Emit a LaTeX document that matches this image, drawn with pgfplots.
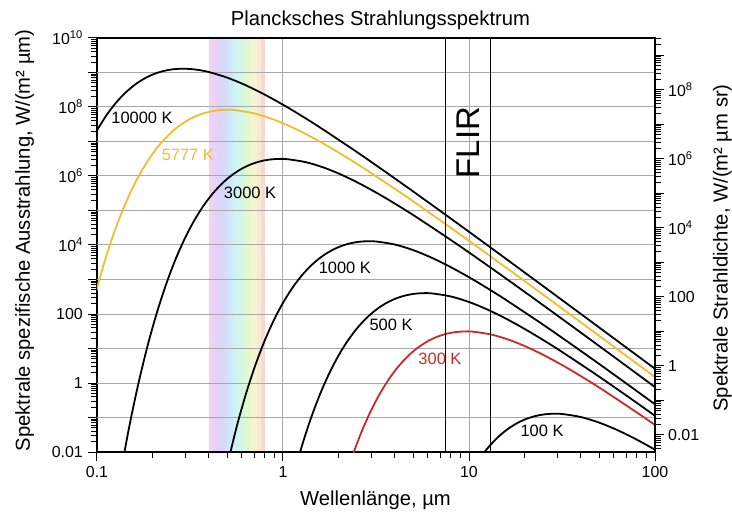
\documentclass[border=0pt]{standalone}
\usepackage{fontspec}
\setmainfont{Liberation Sans}
\usepackage{pgfplots}
\pgfplotsset{compat=1.18}
\definecolor{sunY}{RGB}{240,190,45}
\definecolor{hotR}{RGB}{205,40,40}
\definecolor{gridG}{RGB}{168,168,168}
\definecolor{rbA}{RGB}{246,210,244}
\definecolor{rbB}{RGB}{220,212,248}
\definecolor{rbC}{RGB}{208,228,250}
\definecolor{rbD}{RGB}{208,246,243}
\definecolor{rbE}{RGB}{218,247,210}
\definecolor{rbF}{RGB}{248,247,208}
\definecolor{rbG}{RGB}{251,230,210}
\definecolor{rbH}{RGB}{251,210,210}
\begin{document}
\begin{tikzpicture}
% visible spectrum band
\begin{axis}[scale only axis, width=558bp, height=414bp, at={(0,0)}, anchor=south west,
  xmode=log, ymode=log, xmin=0.1, xmax=100, ymin=0.01, ymax=1e10, hide axis]
\fill[rbB!18!rbA] (axis cs:0.4,0.01) rectangle (axis cs:0.4215,1e10);
\fill[rbB!54!rbA] (axis cs:0.4203,0.01) rectangle (axis cs:0.4429,1e10);
\fill[rbB!89!rbA] (axis cs:0.44164,0.01) rectangle (axis cs:0.4654,1e10);
\fill[rbC!33!rbB] (axis cs:0.46406,0.01) rectangle (axis cs:0.4890,1e10);
\fill[rbC!81!rbB] (axis cs:0.48762,0.01) rectangle (axis cs:0.5138,1e10);
\fill[rbD!29!rbC] (axis cs:0.51237,0.01) rectangle (axis cs:0.5399,1e10);
\fill[rbD!76!rbC] (axis cs:0.53838,0.01) rectangle (axis cs:0.5673,1e10);
\fill[rbE!24!rbD] (axis cs:0.56571,0.01) rectangle (axis cs:0.5961,1e10);
\fill[rbE!71!rbD] (axis cs:0.59443,0.01) rectangle (axis cs:0.6264,1e10);
\fill[rbF!19!rbE] (axis cs:0.62460,0.01) rectangle (axis cs:0.6582,1e10);
\fill[rbF!67!rbE] (axis cs:0.65630,0.01) rectangle (axis cs:0.6916,1e10);
\fill[rbG!21!rbF] (axis cs:0.68962,0.01) rectangle (axis cs:0.7267,1e10);
\fill[rbG!93!rbF] (axis cs:0.72463,0.01) rectangle (axis cs:0.7636,1e10);
\fill[rbH!64!rbG] (axis cs:0.76141,0.01) rectangle (axis cs:0.8,1e10);
\end{axis}
% main axis
\begin{axis}[scale only axis, width=558bp, height=414bp, at={(0,0)}, anchor=south west,
  xmode=log, ymode=log, xmin=0.1, xmax=100, ymin=0.01, ymax=1e10,
  ticklabel style={font=\fontsize{16}{19}\selectfont},
  axis line style={line width=1.4bp},
  tick style={black, line width=1bp},
  major tick length=9bp, minor tick length=6bp, tick align=outside,
  xtick pos=left, ytick pos=left,
  xtick={0.1,1,10,100}, xticklabels={0.1,1,10,100},
  minor xtick={0.2,0.3,0.4,0.5,0.6,0.7,0.8,0.9,2,3,4,5,6,7,8,9,20,30,40,50,60,70,80,90},
  ytick={1e-2,1e-1,1e0,1e1,1e2,1e3,1e4,1e5,1e6,1e7,1e8,1e9,1e10},
  yticklabels={0.01,,1,,100,,10\textsuperscript{4},,10\textsuperscript{6},,10\textsuperscript{8},,10\textsuperscript{10}},
  minor ytick={2e-2,3e-2,4e-2,5e-2,6e-2,7e-2,8e-2,9e-2,2e-1,3e-1,4e-1,5e-1,6e-1,7e-1,8e-1,9e-1,2e0,3e0,4e0,5e0,6e0,7e0,8e0,9e0,2e1,3e1,4e1,5e1,6e1,7e1,8e1,9e1,2e2,3e2,4e2,5e2,6e2,7e2,8e2,9e2,2e3,3e3,4e3,5e3,6e3,7e3,8e3,9e3,2e4,3e4,4e4,5e4,6e4,7e4,8e4,9e4,2e5,3e5,4e5,5e5,6e5,7e5,8e5,9e5,2e6,3e6,4e6,5e6,6e6,7e6,8e6,9e6,2e7,3e7,4e7,5e7,6e7,7e7,8e7,9e7,2e8,3e8,4e8,5e8,6e8,7e8,8e8,9e8,2e9,3e9,4e9,5e9,6e9,7e9,8e9,9e9},
  yticklabel style={inner xsep=5bp},
  xticklabel style={yshift=-2bp},
  xmajorgrids=true, major grid style={gridG, line width=1bp},
  every axis plot/.append style={line width=1.8bp, smooth}]
% horizontal grid lines at every decade
\pgfplotsinvokeforeach{-1,...,9}{\draw[gridG, line width=1bp] (axis cs:0.1,1e#1) -- (axis cs:100,1e#1);}
% 10000 K
\addplot[black] coordinates {(0.1,2.111e7) (0.1122,5.678e7) (0.1259,1.287e8) (0.1413,2.508e8) (0.1585,4.271e8) (0.1778,6.446e8) (0.1995,8.744e8) (0.2239,1.078e9) (0.2512,1.222e9) (0.2818,1.284e9) (0.3162,1.264e9) (0.3548,1.174e9) (0.3981,1.036e9) (0.5012,7.106e8) (0.6310,4.262e8) (0.7943,2.312e8) (1,1.164e8) (1.2589,5.540e7) (1.5849,2.530e7) (2.5119,4.839e6) (3.9811,8.594e5) (6.3096,1.461e5) (10,2.418e4) (15.849,3937) (25.119,634.7) (39.811,101.7) (63.096,16.23) (100,2.582)};
% 5777 K
\addplot[sunY] coordinates {(0.09734,331.0) (0.10922,3009) (0.12255,2.018e4) (0.13750,1.036e5) (0.15428,4.173e5) (0.17310,1.358e6) (0.19422,3.652e6) (0.21792,8.279e6) (0.24451,1.614e7) (0.27435,2.748e7) (0.30782,4.148e7) (0.34539,5.626e7) (0.38753,6.936e7) (0.43482,7.858e7) (0.48809,8.262e7) (0.54739,8.133e7) (0.68912,6.665e7) (0.86752,4.573e7) (1.0922,2.742e7) (1.3750,1.488e7) (1.7310,7.487e6) (2.1792,3.565e6) (2.7435,1.627e6) (4.3482,3.113e5) (6.8912,5.530e4) (10.922,9399) (17.310,1556) (27.435,253.3) (43.482,40.84) (68.912,6.541) (109.22,1.044)};
% 3000 K
\addplot[black] coordinates {(0.13270,1.833e-3) (0.14890,0.05245) (0.16707,0.9795) (0.18745,12.50) (0.21033,113.6) (0.23600,762.3) (0.26479,3911) (0.29710,1.576e4) (0.33333,5.130e4) (0.37401,1.380e5) (0.41964,3.127e5) (0.47085,6.095e5) (0.52830,1.038e6) (0.59276,1.566e6) (0.66510,2.125e6) (0.74625,2.620e6) (0.83731,2.968e6) (0.93946,3.121e6) (1.0541,3.072e6) (1.3270,2.517e6) (1.6707,1.727e6) (2.1033,1.036e6) (2.6479,5.618e5) (3.3333,2.828e5) (4.1964,1.346e5) (5.2830,6.147e4) (8.3731,1.176e4) (13.270,2088) (21.033,354.9) (33.333,58.76) (52.830,9.567) (83.731,1.542) (132.70,0.2470)};
% 1000 K
\addplot[black] coordinates {(0.50119,4.031e-3) (0.56234,0.05143) (0.63096,0.4676) (0.70795,3.137) (0.79433,16.09) (0.89125,64.84) (1,211.1) (1.1220,567.8) (1.2589,1287) (1.4125,2508) (1.5849,4271) (1.7783,6446) (1.9953,8744) (2.2387,1.078e4) (2.5119,1.222e4) (2.8184,1.284e4) (3.1623,1.264e4) (3.9811,1.036e4) (5.0119,7106) (6.3096,4262) (7.9433,2312) (10,1164) (12.589,554.0) (15.849,253.0) (25.119,48.39) (39.811,8.594) (63.096,1.461) (100,0.2418)};
% 500 K
\addplot[black] coordinates {(1.12468,1.607e-3) (1.26191,0.01461) (1.41589,0.09802) (1.58866,0.5029) (1.78250,2.027) (2.0,6.598) (2.2440,17.74) (2.5179,40.21) (2.8251,78.42) (3.1698,133.5) (3.5566,201.5) (3.9905,273.3) (4.4774,336.9) (5.0238,381.6) (5.6368,401.3) (6.3246,395.0) (7.9621,323.7) (10.024,222.1) (12.619,133.2) (15.887,72.26) (20.0,36.37) (25.179,17.31) (31.698,7.907) (50.238,1.512) (79.621,0.2685) (126.19,0.04565)};
% 300 K
\addplot[hotR] coordinates {(2.1032,1.136e-3) (2.3598,7.623e-3) (2.6478,0.03911) (2.9708,0.1576) (3.3333,0.5130) (3.7401,1.380) (4.1964,3.127) (4.7085,6.095) (5.2830,10.38) (5.9276,15.66) (6.6510,21.25) (7.4625,26.20) (8.3731,29.68) (9.3947,31.21) (10.541,30.72) (13.270,25.17) (16.707,17.27) (21.033,10.36) (26.479,5.618) (33.333,2.828) (41.964,1.346) (52.830,0.6147) (83.731,0.1176) (132.70,0.02088)};
% 100 K
\addplot[black] coordinates {(10,2.111e-3) (11.220,5.678e-3) (12.589,0.01287) (14.125,0.02508) (15.849,0.04271) (17.783,0.06446) (19.953,0.08744) (22.387,0.1078) (25.119,0.1222) (28.184,0.1284) (31.623,0.1264) (39.811,0.1036) (50.119,0.07106) (63.096,0.04262) (79.433,0.02312) (100,0.01164) (125.89,5.540e-3)};
% FLIR band limits
\addplot[black, line width=1.1bp, sharp plot] coordinates {(7.5,0.01) (7.5,1e10)};
\addplot[black, line width=1.1bp, sharp plot] coordinates {(13,0.01) (13,1e10)};
% labels
\node[font=\fontsize{16.5}{19}\selectfont, inner sep=0pt] at (axis cs:0.1746,4.8e7) {10000 K};
\node[font=\fontsize{16.5}{19}\selectfont, inner sep=0pt, text=sunY] at (axis cs:0.308,4.07e6) {5777 K};
\node[font=\fontsize{16.5}{19}\selectfont, inner sep=0pt] at (axis cs:0.665,3.2e5) {3000 K};
\node[font=\fontsize{16.5}{19}\selectfont, inner sep=0pt] at (axis cs:2.15,2150) {1000 K};
\node[font=\fontsize{16.5}{19}\selectfont, inner sep=0pt] at (axis cs:3.81,48) {500 K};
\node[font=\fontsize{16.5}{19}\selectfont, inner sep=0pt, text=hotR] at (axis cs:6.98,5.0) {300 K};
\node[font=\fontsize{16.5}{19}\selectfont, inner sep=0pt] at (axis cs:24.7,0.041) {100 K};
\node[rotate=90, inner sep=0pt, font=\fontsize{33}{38}\selectfont] at (axis cs:9.88,9.35e6) {FLIR};
\end{axis}
% right axis: radiance
\begin{axis}[scale only axis, width=558bp, height=414bp, at={(0,0)}, anchor=south west,
  xmode=log, ymode=log, xmin=0.1, xmax=100, ymin=0.0031831, ymax=3.1831e9,
  hide x axis, axis y line*=right,
  ticklabel style={font=\fontsize{16}{19}\selectfont},
  axis line style={line width=1.4bp},
  tick style={black, line width=1bp},
  major tick length=9bp, minor tick length=6bp, tick align=outside,
  ytick={1e-2,1e-1,1e0,1e1,1e2,1e3,1e4,1e5,1e6,1e7,1e8,1e9},
  yticklabels={0.01,,1,,100,,10\textsuperscript{4},,10\textsuperscript{6},,10\textsuperscript{8},},
  minor ytick={4e-3,5e-3,6e-3,7e-3,8e-3,9e-3,2e-2,3e-2,4e-2,5e-2,6e-2,7e-2,8e-2,9e-2,2e-1,3e-1,4e-1,5e-1,6e-1,7e-1,8e-1,9e-1,2e0,3e0,4e0,5e0,6e0,7e0,8e0,9e0,2e1,3e1,4e1,5e1,6e1,7e1,8e1,9e1,2e2,3e2,4e2,5e2,6e2,7e2,8e2,9e2,2e3,3e3,4e3,5e3,6e3,7e3,8e3,9e3,2e4,3e4,4e4,5e4,6e4,7e4,8e4,9e4,2e5,3e5,4e5,5e5,6e5,7e5,8e5,9e5,2e6,3e6,4e6,5e6,6e6,7e6,8e6,9e6,2e7,3e7,4e7,5e7,6e7,7e7,8e7,9e7,2e8,3e8,4e8,5e8,6e8,7e8,8e8,9e8,2e9,3e9},
  yticklabel style={inner xsep=4bp}]
\end{axis}
% titles and axis labels
\node[anchor=base, font=\fontsize{20.3}{24}\selectfont] at (283.5bp,426bp) {Plancksches Strahlungsspektrum};
\node[anchor=base, font=\fontsize{20.3}{24}\selectfont] at (278.5bp,-53bp) {Wellenlänge, µm};
\node[anchor=base, rotate=90, font=\fontsize{20.3}{24}\selectfont] at (-67bp,211.5bp) {Spektrale spezifische Ausstrahlung, W/(m² µm)};
\node[anchor=base, rotate=90, font=\fontsize{20.3}{24}\selectfont] at (630.5bp,204bp) {Spektrale Strahldichte, W/(m² µm sr)};
\pgfresetboundingbox
\useasboundingbox (-97bp,-66bp) rectangle (635bp,452bp);
\end{tikzpicture}
\end{document}
